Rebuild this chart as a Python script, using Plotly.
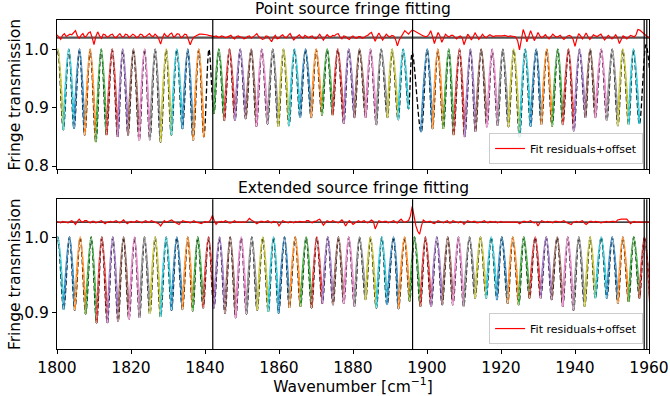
import plotly.graph_objects as go

TAB10 = ["#1f77b4", "#ff7f0e", "#2ca02c", "#d62728", "#9467bd",
         "#8c564b", "#e377c2", "#7f7f7f", "#bcbd22", "#17becf"]

x_ticks = [1800, 1820, 1840, 1860, 1880, 1900, 1920, 1940, 1960]
OFFSET = 1.02
region_edges = [1842.1, 1896.1, 1958.7, 1959.4]
titles = ["Point source fringe fitting", "Extended source fringe fitting"]
y_label = "Fringe transmission"
x_label = "Wavenumber [cm<sup>−1</sup>]"
legend_label = "Fit residuals+offset"

# ---------------- Point source (top) ----------------
top_peak_x = [1800.22, 1803.19, 1806.08, 1808.97, 1811.95, 1814.92, 1817.78, 1820.68, 1823.65, 1826.54,
              1829.51, 1832.38, 1835.35, 1838.32, 1841.08,
              1843.73, 1846.62, 1849.51, 1852.49, 1855.35, 1858.32, 1861.22, 1864.19, 1867.16, 1870.05,
              1873.03, 1875.89, 1878.86, 1881.76, 1884.73, 1887.62, 1890.59, 1893.57, 1896.0,
              1900.05, 1902.92, 1905.89, 1908.78, 1911.76, 1914.65, 1917.62, 1920.49, 1923.46, 1926.54,
              1929.51, 1932.38, 1935.35, 1938.24, 1941.22, 1944.11, 1947.08, 1950.05, 1952.92, 1955.81,
              1959.19]
top_peak_y = [1.0, 1.0, 1.0, 1.0, 1.0, 1.0, 1.0, 1.0, 1.0, 1.0,
              1.0, 1.0, 1.0, 1.0, 1.0,
              1.0, 1.0, 1.0, 1.0, 1.0, 1.0, 1.0, 1.0, 1.0, 1.0,
              1.0, 1.0, 1.0, 1.0, 1.0, 1.0, 1.0, 1.0, 0.995,
              1.0, 1.0, 1.0, 1.0, 1.0, 1.0, 1.0, 1.0, 1.0, 1.0,
              1.0, 1.0, 1.0, 1.0, 1.0, 1.0, 1.0, 1.0, 1.0, 1.0,
              1.008]
top_fitted = [1, 1, 1, 1, 1, 1, 1, 1, 1, 1,
              1, 1, 1, 1, 0,
              1, 1, 1, 1, 1, 1, 1, 1, 1, 1,
              1, 1, 1, 1, 1, 1, 1, 1, 0,
              1, 1, 1, 1, 1, 1, 1, 1, 1, 1,
              1, 1, 1, 1, 1, 1, 1, 1, 1, 1,
              0]
top_trough_x = [1798.75, 1801.7, 1804.6, 1807.5, 1810.5, 1813.4, 1816.4, 1819.2, 1822.2, 1825.1,
                1828.0, 1830.9, 1833.9, 1836.8, 1839.7, 1842.4,
                1845.2, 1848.1, 1851.0, 1853.9, 1856.9, 1859.8, 1862.7, 1865.7, 1868.7, 1871.6,
                1874.5, 1877.5, 1880.4, 1883.4, 1886.3, 1889.3, 1892.2, 1895.0, 1898.4,
                1901.5, 1904.4, 1907.2, 1910.2, 1913.1, 1916.2, 1919.1, 1922.0, 1925.0, 1928.0,
                1930.9, 1933.8, 1936.7, 1939.7, 1942.8, 1945.5, 1948.6, 1951.6, 1954.5, 1957.4, 1960.6]
top_trough_y = [0.862, 0.862, 0.864, 0.853, 0.841, 0.853, 0.850, 0.853, 0.844, 0.845,
                0.841, 0.853, 0.864, 0.844, 0.850, 0.890,
                0.878, 0.878, 0.881, 0.868, 0.872, 0.867, 0.869, 0.883, 0.883, 0.887,
                0.887, 0.873, 0.883, 0.883, 0.871, 0.883, 0.879, 0.898, 0.858,
                0.864, 0.864, 0.853, 0.850, 0.859, 0.867, 0.869, 0.867, 0.850, 0.868,
                0.871, 0.868, 0.871, 0.860, 0.883, 0.883, 0.878, 0.869, 0.871, 0.872, 0.930]
top_color_start = 8

# residuals (units of 1e-3), sampled every 0.5 cm^-1 from 1800 to 1960
res_x = [1800 + 0.5 * i for i in range(321)]
top_res = [5, 1, -3, 4, 7, 2, 4, 6, 5, 9, 12, 3, -1, 4, 7, 1, 3, 8, 10, 0,
           -12, 2, 10, 3, -1, 6, 5, 1, 2, 5, 6, 1, 0, 4, 7, 2, 1, 6, 5, 0,
           3, 6, 4, 0, 2, 6, 5, 1, 2, 4, 7, 3, 2, 6, 3, -2, -11, 0, 7, 3,
           2, 6, 8, 1, 3, 7, 6, 0, 2, 6, 5, -3, -12, -4, 1, 3, 5, 6, 6, 6,
           5, 5, 4, 3, 2, 2, 3, 1, 1, 3, 2, 0, 1, 3, 4, 0, -2, 2, 3, 1,
           1, -2, -1, 2, 3, -1, 1, 4, 7, 2, 0, -3, -2, 3, 2, -2, -7, 0, 4, -2,
           -1, 3, 5, 1, 0, 4, 7, 1, -4, 0, 3, 5, 1, -1, 4, 2, 0, 2, 3, -1,
           -2, 2, 6, 1, -4, 1, 5, 2, 1, 4, 3, 6, 7, 1, -2, 3, 2, -1, -3, 1,
           3, 0, -1, 2, 2, -1, 0, 3, 4, 7, 9, 1, -6, 2, 8, 2, -4, 1, 6, 3,
           1, 4, 3, -3, -14, -4, 2, 8, 12, 9, 6, 10, 13, 12, 10, 9, 7, 5, 3, 2,
           2, 5, 12, 2, -10, 0, 9, 3, -8, -1, 6, 3, 1, 4, 4, 1, -2, 1, 3, 0,
           -12, -3, 6, 2, -4, 2, 8, 3, -3, 1, 6, 2, 0, 3, 5, 3, 2, 3, 3, 2,
           2, 3, 4, 3, 2, 3, 3, 2, 1, -5, -21, -6, 14, 5, -7, 2, 12, 4, -5, 1,
           9, 3, 0, 2, 5, 1, -2, 2, 6, 3, 1, 2, 4, 0, -3, 0, 3, 4, 2, -3,
           -15, -2, 7, 3, -2, 2, 8, 2, -3, 1, 5, 3, 2, 4, 6, 1, -4, 0, 4, 1,
           -2, 1, 5, 0, -10, -3, 3, 1, -2, 1, 4, 3, 1, 5, 14, 13, 10, 7, 4, 2,
           0]

# ---------------- Extended source (bottom) ----------------
bot_peak_x = [1800.22, 1803.38, 1806.27, 1809.24, 1812.11, 1815.08, 1817.97, 1820.95, 1823.65, 1826.54,
              1829.51, 1832.38, 1835.35, 1838.05, 1840.95, 1843.92, 1846.81, 1849.78, 1852.65, 1855.62,
              1858.51, 1861.49, 1864.38, 1867.35, 1870.22, 1873.19, 1876.08, 1878.86, 1881.76, 1884.73,
              1887.78, 1890.95, 1893.92, 1896.62, 1899.59, 1902.65, 1905.62, 1908.51, 1911.49, 1914.46,
              1917.35, 1920.22, 1923.19, 1926.16, 1929.24, 1932.22, 1935.19, 1938.05, 1941.03, 1944.11,
              1947.08, 1950.05, 1952.92, 1955.89, 1958.78]
bot_peak_y = [1.0, 1.0, 1.0, 1.0, 1.0, 1.0, 1.0, 1.0, 1.0, 1.0,
              1.0, 1.0, 1.0, 1.0, 1.0, 1.0, 1.0, 1.0, 1.0, 1.0,
              1.0, 1.0, 1.0, 1.0, 1.0, 1.0, 1.0, 1.0, 1.0, 1.0,
              1.0, 1.0, 1.0, 1.0, 1.0, 1.0, 1.0, 1.0, 1.0, 1.0,
              1.0, 1.0, 1.0, 1.0, 1.0, 1.0, 1.0, 1.0, 1.0, 1.0,
              1.0, 1.0, 1.0, 1.0, 1.0]
bot_fitted = [1] * 55
bot_trough_x = [1798.7, 1801.8, 1804.8, 1807.75, 1810.7, 1813.6, 1816.5, 1819.45, 1822.3, 1825.1,
                1828.0, 1830.95, 1833.9, 1836.7, 1839.5, 1842.4, 1845.4, 1848.3, 1851.2, 1854.1,
                1857.1, 1859.9, 1862.8, 1865.8, 1868.8, 1871.7, 1874.6, 1877.5, 1880.4, 1883.4,
                1886.3, 1889.2, 1892.3, 1895.3, 1898.2, 1901.1, 1904.1, 1907.0, 1909.9, 1913.0,
                1916.0, 1918.9, 1921.8, 1924.8, 1927.7, 1930.7, 1933.7, 1936.7, 1939.6, 1942.6,
                1945.5, 1948.6, 1951.6, 1954.5, 1957.4, 1960.3]
bot_trough_y = [0.900, 0.904, 0.903, 0.898, 0.886, 0.886, 0.888, 0.891, 0.893, 0.898,
                0.894, 0.903, 0.904, 0.902, 0.906, 0.906, 0.899, 0.893, 0.898, 0.903,
                0.901, 0.899, 0.906, 0.908, 0.906, 0.912, 0.910, 0.912, 0.908, 0.917,
                0.906, 0.910, 0.905, 0.915, 0.908, 0.908, 0.910, 0.910, 0.908, 0.919,
                0.919, 0.917, 0.912, 0.910, 0.919, 0.919, 0.917, 0.908, 0.903, 0.908,
                0.919, 0.919, 0.912, 0.914, 0.919, 0.910]
bot_color_start = 9
bot_res = [1, 0, -1, 1, 0, -1, -1, 1, 2, 0, -3, 1, 4, 1, 0, 2, 2, 0, -1, 1,
           1, -1, 0, 1, 2, 0, -2, 0, 1, 1, 0, 1, 2, 0, -1, 1, 3, 0, -2, 0,
           1, 0, 0, 2, 1, -1, -1, 1, 2, 0, 0, 2, 1, 0, 0, -2, -5, -1, 2, 0,
           1, 2, 3, 1, 0, -1, -3, 0, 2, 1, 1, 0, -1, 1, 2, 0, 0, -1, -2, 0,
           1, 0, 0, 3, 9, 2, -3, 0, 1, 1, 0, 2, 1, -1, -1, 1, 2, 0, 0, 1,
           1, 0, 0, 2, 5, 3, 2, 0, -2, 0, 1, 1, 0, 1, 2, 0, -1, 1, 1, 0,
           -5, -1, 2, 1, 0, -1, 1, 0, -1, 1, 0, 1, 1, 0, 0, 2, 2, 0, -1, 1,
           1, 3, 4, 0, -4, -1, 2, 1, 0, 2, 1, -1, -1, 1, 3, 0, -5, -1, 2, 0,
           -3, -1, 1, 2, 0, 1, 2, 0, -1, 1, 3, 1, -9, -3, 2, 1, 0, 1, 1, -1,
           0, 1, 2, 0, -1, 2, 4, 1, 0, 1, 2, 8, 21, 8, -5, -12, -16, -5, 3, 1,
           0, 1, 1, -1, -2, 0, 2, 1, 0, -1, 1, 2, -1, -1, 2, 1, 0, -1, 1, 0,
           -3, 0, 2, 1, 0, 1, 1, -1, -1, 0, 1, 2, 0, -1, 1, 0, 0, 1, -1, 0,
           1, 0, 0, 1, 1, 0, 0, 1, 1, 0, -2, 0, 1, 1, 0, 1, 2, 0, -1, 0,
           -5, -1, 2, 1, 0, 1, 1, 0, -1, 1, 1, 0, 0, 1, 2, 0, -1, -2, -3, 0,
           1, 1, 0, 1, 2, -1, -3, -1, 1, 1, 0, 1, 1, 0, -1, 0, 1, 1, 0, 1,
           1, 1, 0, 3, 4, 4, 4, 4, 4, 1, -2, 0, 1, 0, 0, 1, 1, 0, 0, 1,
           0]

assert len(top_res) == len(res_x) == len(bot_res)
assert len(top_trough_x) == len(top_peak_x) + 1 == len(top_trough_y)
assert len(bot_trough_x) == len(bot_peak_x) + 1 == len(bot_trough_y)

FONT = "DejaVu Sans"
FS = 15.5
fig = go.Figure()

panels = [
    dict(px=top_peak_x, py=top_peak_y, tx=top_trough_x, ty=top_trough_y, fit=top_fitted,
         c0=top_color_start, res=top_res, xa="x", ya="y", leg="legend"),
    dict(px=bot_peak_x, py=bot_peak_y, tx=bot_trough_x, ty=bot_trough_y, fit=bot_fitted,
         c0=bot_color_start, res=bot_res, xa="x2", ya="y2", leg="legend2"),
]

for p in panels:
    # measured fringe data (black dashed) through all extrema
    dx, dy = [], []
    for i in range(len(p["px"])):
        dx += [p["tx"][i], p["px"][i]]
        dy += [p["ty"][i], p["py"][i]]
    dx.append(p["tx"][-1])
    dy.append(p["ty"][-1])
    fig.add_trace(go.Scatter(x=dx, y=dy, mode="lines", xaxis=p["xa"], yaxis=p["ya"],
                             line=dict(color="black", width=1.3, dash="5px,2.5px",
                                       shape="spline", smoothing=1.0),
                             showlegend=False, hoverinfo="skip"))
    # individual fringe fits, coloured
    k = 0
    wx, wy = [], []
    for i in range(len(p["px"])):
        if not p["fit"][i]:
            continue
        sx = [p["tx"][i], p["px"][i], p["tx"][i + 1]]
        sy = [p["ty"][i], p["py"][i], p["ty"][i + 1]]
        fig.add_trace(go.Scatter(x=sx, y=sy, mode="lines", xaxis=p["xa"], yaxis=p["ya"],
                                 line=dict(color=TAB10[(p["c0"] + k) % 10], width=2.0,
                                           shape="spline", smoothing=1.0),
                                 showlegend=False, hoverinfo="skip"))
        wx += sx + [None]
        wy += sy + [None]
        k += 1
    fig.add_trace(go.Scatter(x=wx, y=wy, mode="lines", xaxis=p["xa"], yaxis=p["ya"],
                             line=dict(color="rgba(255,255,255,0.6)", width=0.8, dash="3px,3px",
                                       shape="spline", smoothing=1.0),
                             connectgaps=False, showlegend=False, hoverinfo="skip"))
    # residuals + offset
    fig.add_trace(go.Scatter(x=res_x, y=[OFFSET + r * 1e-3 for r in p["res"]], mode="lines",
                             xaxis=p["xa"], yaxis=p["ya"], name=legend_label,
                             line=dict(color="red", width=1.2), legend=p["leg"], showlegend=True))

shapes = []
# offset reference lines
shapes.append(dict(type="line", xref="x domain", yref="y", x0=0, x1=1, y0=OFFSET, y1=OFFSET,
                   line=dict(color="#555555", width=2.2), layer="below"))
shapes.append(dict(type="line", xref="x2 domain", yref="y2", x0=0, x1=1, y0=OFFSET, y1=OFFSET,
                   line=dict(color="black", width=1.3), layer="below"))
for e in region_edges:
    for xr, yr in (("x", "y domain"), ("x2", "y2 domain")):
        shapes.append(dict(type="line", xref=xr, yref=yr, x0=e, x1=e, y0=0, y1=1,
                           line=dict(color="black", width=1.2), layer="above"))

axis_common = dict(showline=True, linecolor="black", linewidth=1, mirror=True, ticks="outside",
                   ticklen=4, tickwidth=1, tickcolor="black", showgrid=False, zeroline=False,
                   automargin=False,
                   tickfont=dict(family=FONT, size=FS, color="black"))

top_dom = [0.547, 1.0]
bot_dom = [0.0, 0.455]

fig.update_layout(
    width=670, height=396,
    margin=dict(l=57, r=21, t=20, b=47),
    plot_bgcolor="white", paper_bgcolor="white",
    font=dict(family=FONT, size=FS, color="black"),
    xaxis=dict(axis_common, domain=[0, 1], range=[1800, 1960], anchor="y",
               tickvals=x_ticks, showticklabels=False),
    xaxis2=dict(axis_common, domain=[0, 1], range=[1800, 1960], anchor="y2", matches="x",
                tickvals=x_ticks,
                title=dict(text=x_label, font=dict(family=FONT, size=FS), standoff=4)),
    yaxis=dict(axis_common, domain=top_dom, range=[0.7949, 1.0503], anchor="x",
               tickvals=[0.8, 0.9, 1.0], ticktext=["0.8", "0.9", "1.0"]),
    yaxis2=dict(axis_common, domain=bot_dom, range=[0.8515, 1.0504], anchor="x2",
                tickvals=[0.9, 1.0], ticktext=["0.9", "1.0"]),
    shapes=shapes,
    legend=dict(x=0.99, xanchor="right", y=0.5623, yanchor="bottom", yref="paper",
                bgcolor="rgba(255,255,255,0.8)", bordercolor="#cccccc", borderwidth=1,
                font=dict(family=FONT, size=11), itemwidth=30),
    legend2=dict(x=0.99, xanchor="right", y=0.015, yanchor="bottom", yref="paper",
                 bgcolor="rgba(255,255,255,0.8)", bordercolor="#cccccc", borderwidth=1,
                 font=dict(family=FONT, size=11), itemwidth=30),
    annotations=[
        dict(text=titles[0], xref="paper", yref="paper", x=0.5, y=top_dom[1], yanchor="bottom",
             showarrow=False, font=dict(family=FONT, size=FS)),
        dict(text=titles[1], xref="paper", yref="paper", x=0.5, y=bot_dom[1], yanchor="bottom",
             showarrow=False, font=dict(family=FONT, size=FS)),
        dict(text=y_label, xref="paper", yref="paper", x=-0.071, y=sum(top_dom) / 2,
             xanchor="center", yanchor="middle", textangle=-90, showarrow=False,
             font=dict(family=FONT, size=FS)),
        dict(text=y_label, xref="paper", yref="paper", x=-0.071, y=sum(bot_dom) / 2,
             xanchor="center", yanchor="middle", textangle=-90, showarrow=False,
             font=dict(family=FONT, size=FS)),
    ],
)

fig.write_html("out.html")
